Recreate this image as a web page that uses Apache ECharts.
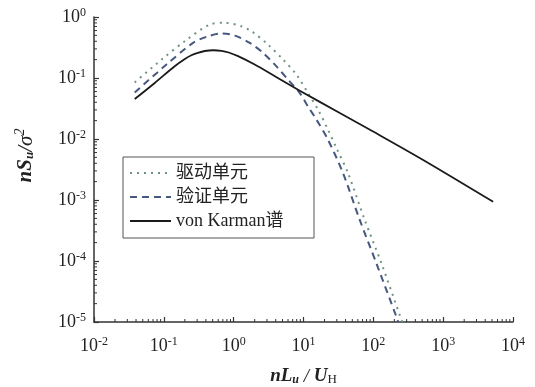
<!DOCTYPE html>
<html><head><meta charset="utf-8">
<script src="https://cdn.jsdelivr.net/npm/echarts@6/dist/echarts.min.js"></script>
<style>html,body{margin:0;padding:0;background:#fff}#c{width:535px;height:387px}</style>
</head><body><div id="c"></div>
<script>
const seriesNames = ['驱动单元', '验证单元', 'von Karman谱'];
const driveX = [0.0383, 0.0925, 0.199, 0.455, 0.745, 1.29, 1.80, 3.11, 5.11, 7.94, 11.6, 16.2, 22.5, 29.7, 43.5, 75.5, 131, 245, 260];
const driveY = [0.0847, 0.200, 0.400, 0.753, 0.803, 0.706, 0.584, 0.353, 0.200, 0.113, 0.0566, 0.0301, 0.0141, 0.00706, 0.00274, 0.000467, 9.06e-5, 1.2e-5, 1.0e-5];
const verifyX = [0.0383, 0.109, 0.262, 0.430, 0.668, 1.04, 1.70, 2.64, 4.10, 6.01, 8.85, 11.6, 15.4, 22.5, 36.9, 64.1, 111, 215, 227];
const verifyY = [0.058, 0.166, 0.376, 0.483, 0.535, 0.496, 0.376, 0.258, 0.155, 0.0938, 0.0566, 0.0341, 0.0206, 0.00966, 0.00274, 0.000467, 9.06e-5, 1.2e-5, 1.0e-5];
const karmanX = [0.0383, 0.0741, 0.143, 0.20, 0.248, 0.306, 0.385, 0.51, 0.668, 0.85, 1.156, 2.00, 4.0, 8.85, 33.1, 99.3, 517, 5200];
const karmanY = [0.0452, 0.083, 0.156, 0.205, 0.236, 0.258, 0.277, 0.285, 0.279, 0.262, 0.228, 0.166, 0.105, 0.062, 0.0266, 0.01324, 0.00453, 0.000934];
const xTickExponents = [-2, -1, 0, 1, 2, 3, 4];
const yTickExponents = [-5, -4, -3, -2, -1, 0];
const minorMultipliers = [2, 3, 4, 5, 6, 7, 8, 9];

const X_MIN = 0.01, X_MAX = 10000, Y_MIN = 1e-5, Y_MAX = 1;
const serif = "'Liberation Serif', 'DejaVu Serif', serif";
const legendFont = "'Liberation Serif', 'Noto Sans CJK SC', serif";

function pairs(xs, ys) { return xs.map((x, i) => [x, ys[i]]); }
function minorVals(exps) {
  const out = [];
  for (let i = 0; i < exps.length - 1; i++) {
    const base = Math.pow(10, exps[i]);
    minorMultipliers.forEach(m => out.push(m * base));
  }
  return out;
}
function expLabel(v) {
  const e = Math.round(Math.log10(v));
  return '{b|10}{s|' + e + '}';
}
const labelRich = {
  b: { fontFamily: serif, fontSize: 18, color: '#222' },
  s: { fontFamily: serif, fontSize: 12, color: '#222', padding: [0, 0, 9, 0], verticalAlign: 'bottom' }
};

const chart = echarts.init(document.getElementById('c'));
chart.setOption({
  animation: false,
  backgroundColor: '#fff',
  grid: { left: 94, right: 22, top: 17, bottom: 65, outerBoundsMode: 'none', containLabel: false },
  legend: {
    data: seriesNames,
    orient: 'vertical',
    left: 123, top: 157,
    padding: [6, 4, 7, 6],
    itemGap: 4,
    itemWidth: 41, itemHeight: 14,
    borderColor: '#555', borderWidth: 1,
    itemStyle: { opacity: 0 },
    textStyle: { fontFamily: legendFont, fontSize: 18, color: '#222', lineHeight: 20, width: 134 }
  },
  xAxis: {
    type: 'log', min: X_MIN, max: X_MAX, logBase: 10,
    axisLine: { lineStyle: { color: '#333', width: 1.5 } },
    axisTick: { inside: true, length: 5, lineStyle: { color: '#333', width: 1.2 } },
    splitLine: { show: false },
    axisLabel: { margin: 14, formatter: expLabel, rich: labelRich },
    name: '{i|nL}{sub|u}{n| / }{i|U}{subH|H}',
    nameLocation: 'middle', nameGap: 45,
    nameTextStyle: {
      rich: {
        i: { fontFamily: serif, fontSize: 19, fontStyle: 'italic', fontWeight: 'bold', color: '#222' },
        n: { fontFamily: serif, fontSize: 19, fontStyle: 'italic', color: '#222' },
        sub: { fontFamily: serif, fontSize: 12, fontStyle: 'italic', fontWeight: 'bold', color: '#222', padding: [6, 0, 0, 0] },
        subH: { fontFamily: serif, fontSize: 13, color: '#222', padding: [6, 0, 0, 0] }
      }
    }
  },
  yAxis: {
    type: 'log', min: Y_MIN, max: Y_MAX, logBase: 10,
    axisLine: { lineStyle: { color: '#333', width: 1.5 } },
    axisTick: { inside: true, length: 5, lineStyle: { color: '#333', width: 1.2 } },
    splitLine: { show: false },
    axisLabel: { margin: 8, formatter: expLabel, rich: labelRich },
    name: '{i|nS}{sub|u}{n|/}{g|σ}{sup|2}',
    nameLocation: 'middle', nameGap: 55, nameRotate: 90,
    nameTextStyle: {
      padding: [0, 0, 0, 28],
      rich: {
        i: { fontFamily: serif, fontSize: 21, fontStyle: 'italic', fontWeight: 'bold', color: '#222' },
        n: { fontFamily: serif, fontSize: 21, fontStyle: 'italic', color: '#222' },
        g: { fontFamily: serif, fontSize: 21, fontStyle: 'italic', color: '#222' },
        sub: { fontFamily: serif, fontSize: 13, fontStyle: 'italic', fontWeight: 'bold', color: '#222', padding: [8, 0, 0, 0] },
        sup: { fontFamily: serif, fontSize: 14, fontStyle: 'italic', color: '#222', padding: [0, 0, 12, 0] }
      }
    }
  },
  series: [
    {
      name: seriesNames[0], type: 'line', data: pairs(driveX, driveY),
      smooth: 0.3, symbol: 'none',
      lineStyle: { color: '#6f937e', width: 2, type: [2, 5] },
      itemStyle: { color: '#6f937e' }
    },
    {
      name: seriesNames[1], type: 'line', data: pairs(verifyX, verifyY),
      smooth: 0.3, symbol: 'none',
      lineStyle: { color: '#46587f', width: 2, type: [7, 5] },
      itemStyle: { color: '#46587f' }
    },
    {
      name: seriesNames[2], type: 'line', data: pairs(karmanX, karmanY),
      smooth: 0.3, symbol: 'none',
      lineStyle: { color: '#1a1a1a', width: 1.8 },
      itemStyle: { color: '#1a1a1a' }
    },
    {
      type: 'custom', silent: true, clip: false,
      data: minorVals(xTickExponents).map(v => [v, Y_MIN]),
      renderItem: (params, api) => {
        const p = api.coord([api.value(0), api.value(1)]);
        return { type: 'line', shape: { x1: p[0], y1: p[1], x2: p[0], y2: p[1] - 3 }, style: { stroke: '#333', lineWidth: 1 } };
      }
    },
    {
      type: 'custom', silent: true, clip: false,
      data: minorVals(yTickExponents).map(v => [X_MIN, v]),
      renderItem: (params, api) => {
        const p = api.coord([api.value(0), api.value(1)]);
        return { type: 'line', shape: { x1: p[0], y1: p[1], x2: p[0] + 3, y2: p[1] }, style: { stroke: '#333', lineWidth: 1 } };
      }
    }
  ]
});
</script>
</body></html>
